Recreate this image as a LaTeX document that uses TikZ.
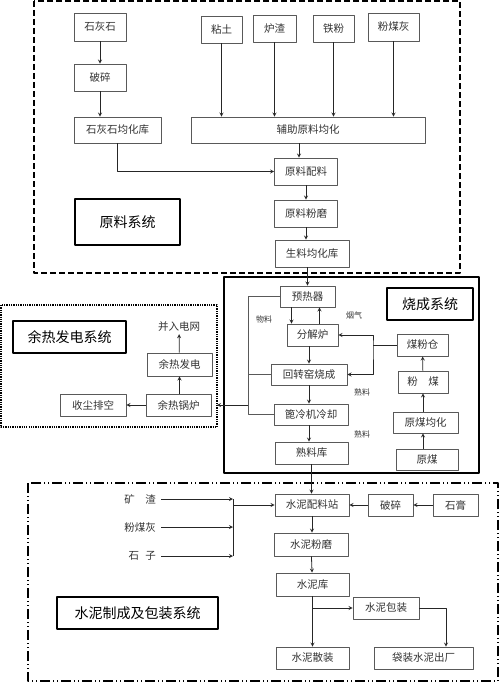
\documentclass[tikz,border=0pt]{standalone}
\usepackage{fontspec}
\setmainfont{Noto Sans CJK SC}
\begin{document}
\begin{tikzpicture}[x=1pt,y=-1pt,font=\fontsize{10.5}{12}\selectfont,line join=round,>=stealth,
  box/.style={draw=black!65,line width=0.8pt,inner sep=0pt,text=black!80,minimum height=22},
  title/.style={draw,line width=1.8pt,inner sep=0pt,font=\fontsize{14}{16}\selectfont},
  tag/.style={font=\fontsize{8}{9}\selectfont,text=black!80},
  flow/.style={->,line width=0.8pt,black!85}]
\useasboundingbox (0,0) rectangle (500,682);
% system frames
\draw[line width=1.6pt,dash pattern=on 6pt off 3pt] (34,1) rectangle (460,273);
\draw[line width=1.2pt] (224,277) rectangle (479,473);
\draw[line width=1.3pt,densely dotted] (1,305) rectangle (217,427);
\draw[line width=1.3pt,dash pattern=on 10pt off 3pt on 1pt off 3pt on 1pt off 3pt] (28,483) rectangle (498,681);
% raw material system
\node[box,minimum width=52,minimum height=28] (lime) at (100,27) {石灰石};
\node[box,minimum width=52,minimum height=27] (crushA) at (100,77.5) {破碎};
\node[box,minimum width=87,minimum height=26] (limestore) at (117.5,130) {石灰石均化库};
\node[box,minimum width=41,minimum height=27] (clay) at (221.5,29.5) {粘土};
\node[box,minimum width=43,minimum height=27] (slag) at (274.5,28.5) {炉渣};
\node[box,minimum width=41,minimum height=27] (iron) at (333.5,28.5) {铁粉};
\node[box,minimum width=51,minimum height=28] (flyash) at (393.5,27) {粉煤灰};
\node[box,minimum width=234,minimum height=26] (aux) at (308,130) {辅助原料均化};
\node[box,minimum width=63,minimum height=27] (mix) at (306,171.5) {原料配料};
\node[box,minimum width=63,minimum height=27] (mill) at (306,213.5) {原料粉磨};
\node[box,minimum width=74,minimum height=27] (rawstore) at (312,253.5) {生料均化库};
\node[title,minimum width=105,minimum height=46] (tA) at (127.5,222) {原料系统};
\draw[flow] (lime) -- (crushA);
\draw[flow] (crushA.south) -- (crushA.south |- limestore.north);
\foreach \s in {clay,slag,iron,flyash} \draw[flow] (\s) -- (\s |- aux.north);
\draw[flow] (limestore.south) |- (mix.west);
\draw[flow] ([xshift=-7]mix.north |- aux.south) -- ([xshift=-7]mix.north);
\draw[flow] (mix) -- (mill);
\draw[flow] (mill.south) -- (mill.south |- rawstore.north);
% burning system
\node[box,minimum width=55,minimum height=21] (preheat) at (307.5,296.5) {预热器};
\node[box,minimum width=51,minimum height=22] (calc) at (312.5,335) {分解炉};
\node[box,minimum width=76,minimum height=21] (kiln) at (309,374.5) {回转窑烧成};
\node[box,minimum width=74,minimum height=21] (cooler) at (311,414.5) {篦冷机冷却};
\node[box,minimum width=73,minimum height=22] (clinker) at (311.5,453) {熟料库};
\node[box,minimum width=51,minimum height=22] (coalbin) at (422.5,345) {煤粉仓};
\node[box,minimum width=50,minimum height=22] (coalpow) at (423,382) {粉\hspace{1em}煤};
\node[box,minimum width=65,minimum height=21] (coalhom) at (425.5,422.5) {原煤均化};
\node[box,minimum width=62,minimum height=21] (coal) at (427,459.5) {原煤};
\node[title,minimum width=86,minimum height=32] (tB) at (430,304) {烧成系统};
\node[tag] (matl) at (264,319) {物料};
\node[tag] (gas) at (354,315) {烟气};
\node[tag] (clkA) at (362,392) {熟料};
\node[tag] (clkB) at (362,434) {熟料};
\draw[flow] (rawstore.south -| preheat) -- (preheat.north);
\draw[flow] ([xshift=-16]preheat.south) -- ([xshift=-16]preheat.south |- calc.north);
\draw[flow] ([xshift=12]preheat.south |- calc.north) -- ([xshift=12]preheat.south);
\draw[flow] (kiln.north |- calc.south) -- (kiln.north);
\draw[flow] (kiln.south) -- (kiln.south |- cooler.north);
\draw[flow] (kiln.south |- cooler.south) -- (kiln.south |- clinker.north);
\draw[flow] (coal.north -| coalpow) -- (coalhom.south -| coalpow);
\draw[flow] (coalhom.north -| coalpow) -- (coalpow.south);
\draw[flow] (coalpow) -- (coalbin);
\coordinate (feed) at (373,345);
\draw[line width=0.8pt,black!85] (coalbin.west) -- (feed);
\draw[flow,<->] (calc.east) -| (feed) |- (kiln.east);
\coordinate (bus) at (248,405);
\coordinate (whin) at (217,405);
\draw[line width=0.8pt,black!65] (preheat.west) -| (bus |- cooler.west) -- (cooler.west);
\draw[line width=0.8pt,black!65] (kiln.west) -- (kiln.west -| bus);
\draw[flow] (bus) -- (whin);
% waste heat power system
\node[title,minimum width=113,minimum height=32] (tC) at (69.5,337) {余热发电系统};
\node[text=black!80,inner sep=2pt] (grid) at (179,327) {并入电网};
\node[box,minimum width=65,minimum height=23] (whgen) at (179.5,364.5) {余热发电};
\node[box,minimum width=65,minimum height=22] (whboil) at (178.5,405) {余热锅炉};
\node[box,minimum width=66,minimum height=22] (dust) at (93,405) {收尘排空};
\draw[flow] (whboil) -- (dust);
\draw[flow] (whboil.north -| whgen) -- (whgen.south);
\draw[flow] (whgen) -- (grid);
% cement grinding and packing system
\node[text=black!80,anchor=east,inner sep=5pt] (kz) at (161,499) {矿\hspace{1em}渣};
\node[text=black!80,anchor=east,inner sep=5pt] (fa) at (161,527) {粉煤灰};
\node[text=black!80,anchor=east,inner sep=5pt] (sz) at (161,556) {石\hspace{0.6em}子};
\node[box,minimum width=74,minimum height=22] (cmix) at (312,505) {水泥配料站};
\node[box,minimum width=45,minimum height=22] (crushB) at (390.5,505) {破碎};
\node[box,minimum width=45,minimum height=22] (gyps) at (455.5,505) {石膏};
\node[box,minimum width=74,minimum height=23] (cmill) at (311,544.5) {水泥粉磨};
\node[box,minimum width=73,minimum height=23] (cstore) at (312.5,584.5) {水泥库};
\node[box,minimum width=66,minimum height=22] (cpack) at (386,608) {水泥包装};
\node[box,minimum width=73,minimum height=22] (cbulk) at (312.5,658) {水泥散装};
\node[box,minimum width=99,minimum height=22] (cbag) at (423.5,658) {袋装水泥出厂};
\node[title,minimum width=161,minimum height=32] (tD) at (137.5,613) {水泥制成及包装系统};
\coordinate (join) at (233,0);
\foreach \s in {kz,fa,sz} \draw[flow] (\s.east) -- (\s.east -| join);
\draw[line width=0.8pt,black!85] (kz.east -| join) -- (sz.east -| join);
\draw[flow] (join |- cmix.west) -- (cmix.west);
\draw[flow] (gyps) -- (crushB);
\draw[flow] (crushB) -- (cmix);
\draw[flow] (clinker.south) -- (clinker.south |- cmix.north);
\draw[flow] (cmix.south) -- (cmix.south |- cmill.north);
\draw[flow] (cmill) -- (cstore);
\draw[flow] (cstore) -- (cbulk);
\draw[flow] (cstore.south |- cpack.west) -- (cpack.west);
\draw[flow] (cpack.east) -| ([xshift=22.5]cbag.north);
\end{tikzpicture}
\end{document}
